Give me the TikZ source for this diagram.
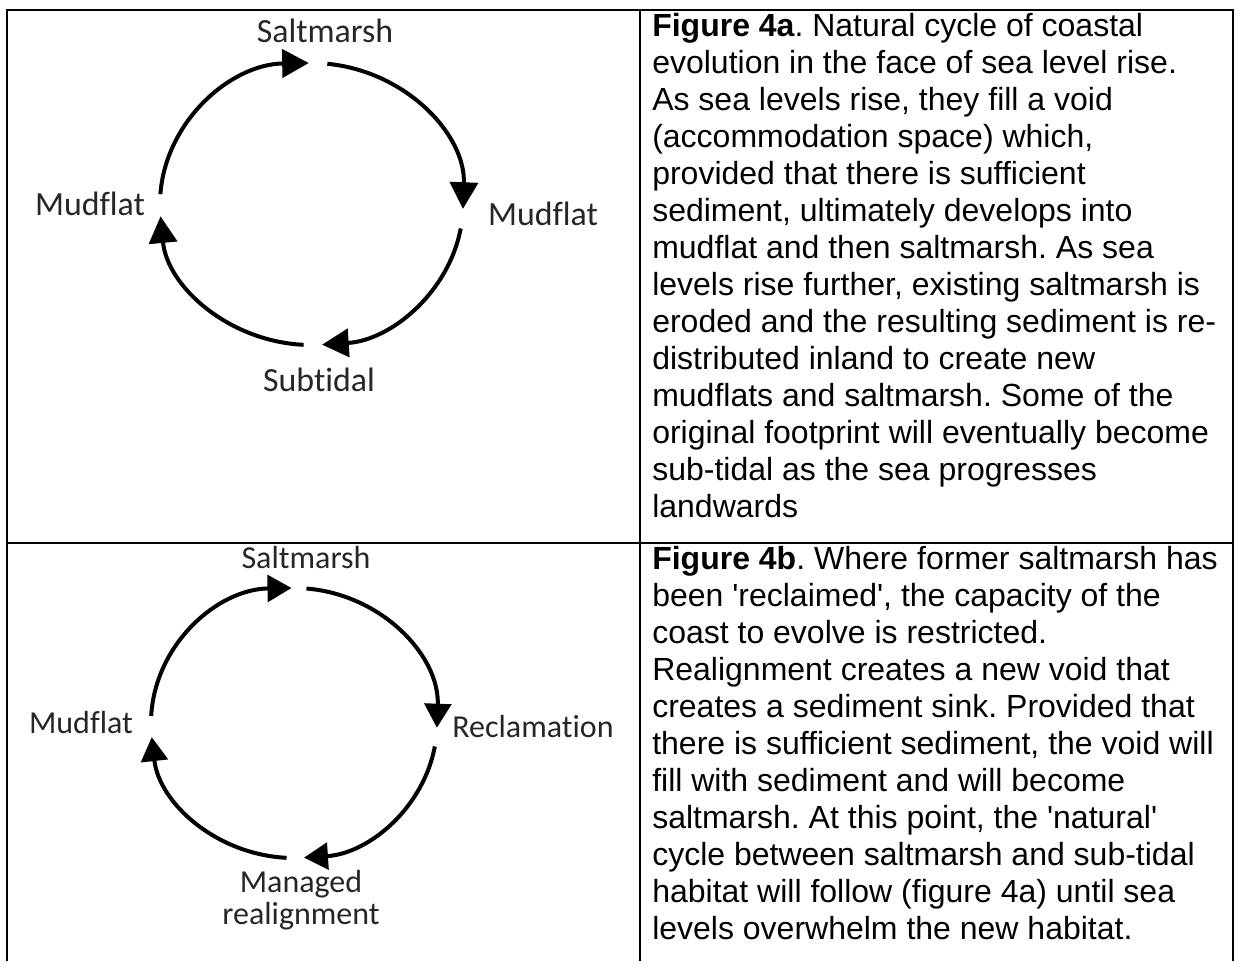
\documentclass[tikz,border=0pt]{standalone}
\usepackage{fontspec}
\setmainfont{Liberation Sans}
\newfontfamily\labelfont{Carlito}[Ligatures=NoCommon]
\usetikzlibrary{arrows.meta}
\frenchspacing

\begin{document}
\begin{tikzpicture}[x=0.75pt,y=-0.75pt,
  cyc/.style={line width=3pt,-{Triangle[length=20pt,width=21pt]}},
  cycb/.style={line width=3pt,-{Triangle[length=18pt,width=20pt]}},
  lbl/.style={font=\labelfont\fontsize{25.4}{30}\selectfont,anchor=base,inner sep=0pt,text=black!85},
  lblb/.style={lbl,font=\labelfont\fontsize{24}{23.3}\selectfont,align=center},
  captxt/.style={font=\fontsize{24}{27.7}\selectfont,align=left,anchor=base west,inner sep=0pt}]
  \useasboundingbox (0,0) rectangle (1239,961);
  % table rules
  \draw[line width=1.5pt] (7,961) -- (7,10) -- (1233,10) -- (1233,961);
  \draw[line width=1.5pt] (640,10) -- (640,961);
  \draw[line width=1.5pt] (7,542.5) -- (1233,542.5);

  % figure 4a: natural cycle
  \begin{scope}[shift={(311.5,204)}]
    \def\rx{151.5} \def\ry{141}
    \draw[cyc] ({\rx*cos(184)},{\ry*sin(184)}) arc[start angle=184,end angle=269,x radius=\rx,y radius=\ry];
    \draw[cyc] ({\rx*cos(276)},{\ry*sin(276)}) arc[start angle=276,end angle=362,x radius=\rx,y radius=\ry];
    \draw[cyc] ({\rx*cos(10)},{\ry*sin(10)}) arc[start angle=10,end angle=86,x radius=\rx,y radius=\ry];
    \draw[cyc] ({\rx*cos(93)},{\ry*sin(93)}) arc[start angle=93,end angle=175,x radius=\rx,y radius=\ry];
  \end{scope}
  \node[lbl] (salt1) at (325,42) {Saltmarsh};
  \node[lbl] (mudR1) at (543,225) {Mudflat};
  \node[lbl] (sub1) at (319,391) {Subtidal};
  \node[lbl] (mudL1) at (90,215) {Mudflat};

  % figure 4b: with reclamation
  \begin{scope}[shift={(294,723)}]
    \def\rx{143} \def\ry{135}
    \draw[cycb] ({\rx*cos(183)},{\ry*sin(183)}) arc[start angle=183,end angle=269,x radius=\rx,y radius=\ry];
    \draw[cycb] ({\rx*cos(275)},{\ry*sin(275)}) arc[start angle=275,end angle=362,x radius=\rx,y radius=\ry];
    \draw[cycb] ({\rx*cos(10)},{\ry*sin(10)}) arc[start angle=10,end angle=86,x radius=\rx,y radius=\ry];
    \draw[cycb] ({\rx*cos(93)},{\ry*sin(93)}) arc[start angle=93,end angle=174,x radius=\rx,y radius=\ry];
  \end{scope}
  \node[lblb] (salt2) at (306,568) {Saltmarsh};
  \node[lblb] (recl2) at (533,737) {Reclamation};
  \node[lblb] (mgd2) at (301,924) {Managed\\realignment};
  \node[lblb] (mud2) at (81,733) {Mudflat};

  % captions (anchored on the last line)
  \node[captxt] (cap1) at (652,517) {\textbf{Figure 4a}. Natural cycle of coastal\\
    evolution in the face of sea level rise.\\
    As sea levels rise, they fill a void\\
    (accommodation space) which,\\
    provided that there is sufficient\\
    sediment, ultimately develops into\\
    mudflat and then saltmarsh. As sea\\
    levels rise further, existing saltmarsh is\\
    eroded and the resulting sediment is re-\\
    distributed inland to create new\\
    mudflats and saltmarsh. Some of the\\
    original footprint will eventually become\\
    sub-tidal as the sea progresses\\
    landwards};
  \node[captxt] (cap2) at (652,939) {\textbf{Figure 4b}. Where former saltmarsh has\\
    been \textquotesingle reclaimed\textquotesingle, the capacity of the\\
    coast to evolve is restricted.\\
    Realignment creates a new void that\\
    creates a sediment sink. Provided that\\
    there is sufficient sediment, the void will\\
    fill with sediment and will become\\
    saltmarsh. At this point, the \textquotesingle natural\textquotesingle\\
    cycle between saltmarsh and sub-tidal\\
    habitat will follow (figure 4a) until sea\\
    levels overwhelm the new habitat.};
\end{tikzpicture}
\end{document}
